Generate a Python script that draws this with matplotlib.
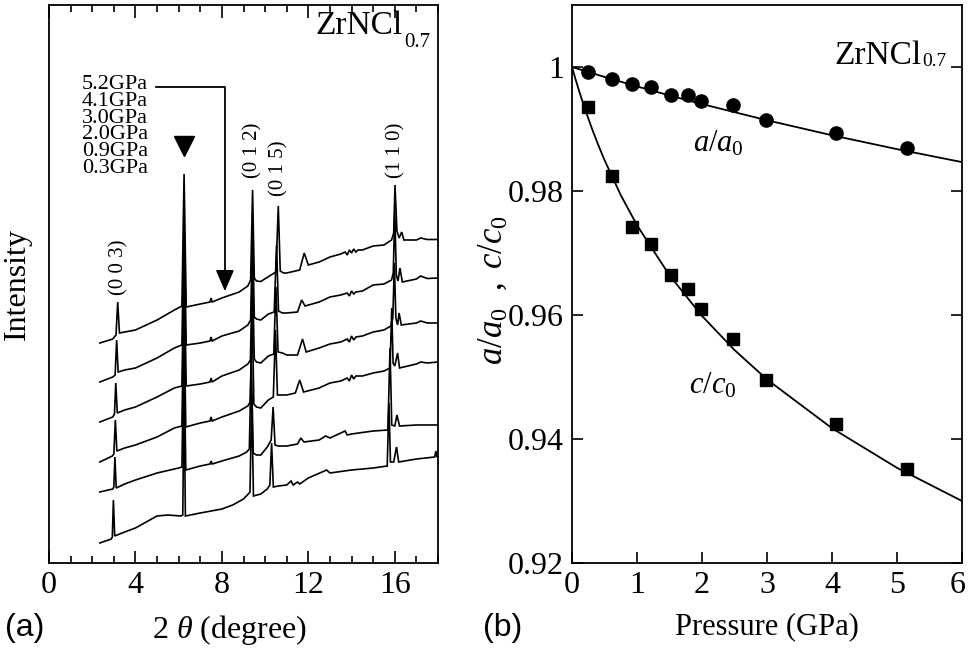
import matplotlib
matplotlib.use('Agg')
import matplotlib.pyplot as plt
import matplotlib.transforms as mtransforms
from matplotlib.ticker import FixedLocator, MultipleLocator
from matplotlib.patches import FancyArrowPatch

plt.rcParams['font.family'] = ['Liberation Serif', 'DejaVu Serif']
plt.rcParams['mathtext.fontset'] = 'custom'
plt.rcParams['mathtext.rm'] = 'Liberation Serif'
plt.rcParams['mathtext.it'] = 'Liberation Serif:italic'
plt.rcParams['mathtext.bf'] = 'Liberation Serif:bold'

# ---------------- panel (a): XRD patterns (2theta, intensity a.u.) ----------------
pressures_a = ['5.2GPa', '4.1GPa', '3.0GPa', '2.0GPa', '0.9GPa', '0.3GPa']

tt_52 = [2.35, 2.95, 3.10, 3.18, 3.26, 3.5, 4.0, 5.0, 5.8, 6.15, 6.25, 6.35, 7.0, 7.45, 7.5, 7.55,
         8.0, 8.8, 9.2, 9.33, 9.42, 9.5, 9.6, 9.8, 10.2, 10.5, 10.61, 10.7, 10.85, 11.0, 11.6, 11.81,
         12.0, 12.5, 13.0, 13.5, 13.7, 13.8, 13.9, 14.0, 14.1, 14.2, 14.3, 14.5, 15.0, 15.5, 15.85,
         15.95, 16.01, 16.1, 16.2, 16.32, 16.42, 17.0, 17.2, 17.5, 18.0]
ii_52 = [220, 224, 228, 261, 230, 231, 233, 243, 253, 257, 389, 256, 259, 261, 265, 261,
         265, 271, 277, 283, 373, 285, 282, 281.5, 287, 291, 357, 292, 290, 290, 293, 310,
         298, 301, 306, 309, 311, 308, 313, 310, 314, 311, 313, 313, 317, 318, 323,
         330, 378, 332, 325, 331, 323, 323, 325, 323.5, 323.5]

tt_41 = [2.35, 2.95, 3.06, 3.13, 3.2, 3.5, 4.0, 5.0, 5.8, 6.15, 6.25, 6.35, 7.0, 7.45, 7.5, 7.55,
         8.0, 8.8, 9.2, 9.33, 9.42, 9.5, 9.6, 9.8, 10.15, 10.42, 10.53, 10.62, 10.8, 11.0, 11.5, 11.69,
         11.85, 12.5, 13.0, 13.5, 13.8, 13.9, 14.0, 14.1, 14.2, 14.5, 15.0, 15.5, 15.85, 15.93, 16.0,
         16.07, 16.15, 16.24, 16.35, 17.0, 17.2, 17.5, 18.0]
ii_41 = [181, 186, 188, 223, 191, 193, 195, 205, 215, 218, 346, 218, 220, 222, 226, 222,
         227, 232, 238, 243, 336, 246, 244, 243, 249, 251, 318, 252, 250, 250, 251, 263,
         257, 261, 266, 268, 270, 267, 272, 269, 271, 272, 278, 279, 283, 290, 352,
         288, 282, 295, 281, 284, 287, 284.5, 285]

tt_30 = [2.35, 2.95, 3.03, 3.09, 3.16, 3.5, 4.0, 5.0, 5.8, 6.15, 6.25, 6.35, 7.0, 7.45, 7.5, 7.55,
         8.0, 8.8, 9.2, 9.32, 9.41, 9.5, 9.6, 9.8, 10.15, 10.4, 10.5, 10.6, 10.8, 11.0, 11.5, 11.73,
         11.9, 12.5, 13.0, 13.5, 13.8, 13.9, 14.0, 14.1, 14.2, 14.5, 15.0, 15.5, 15.82, 15.91, 15.98,
         16.05, 16.13, 16.2, 16.3, 17.0, 17.2, 17.5, 18.0]
ii_30 = [141, 146, 149, 180, 150, 153, 156, 166, 175, 177, 305, 177, 179, 181, 185, 181,
         187, 193, 199, 203, 296, 204, 201, 200, 207, 209, 276, 211, 210, 208, 208, 224,
         211, 215, 219, 221, 224, 221, 227, 223, 226, 227, 231, 233, 237, 245, 300,
         245, 238, 250, 238, 240, 242, 240, 240]

tt_20 = [2.35, 2.93, 3.0, 3.07, 3.14, 3.5, 4.0, 5.0, 5.8, 6.15, 6.24, 6.33, 7.0, 7.45, 7.5, 7.55,
         8.0, 8.8, 9.2, 9.31, 9.4, 9.48, 9.6, 9.8, 10.15, 10.38, 10.48, 10.57, 10.75, 11.0, 11.4, 11.6,
         11.78, 12.5, 13.0, 13.5, 13.8, 13.9, 14.0, 14.1, 14.2, 14.5, 15.0, 15.5, 15.78, 15.86, 15.92,
         16.0, 16.13, 16.22, 17.0, 17.2, 17.5, 18.0]
ii_20 = [101, 107, 109, 143, 112, 115, 118, 126, 135, 137, 265, 136, 140, 142, 146, 142,
         146, 152, 157, 161, 254, 159, 156, 155, 163, 166, 233, 168, 168, 168, 170, 183,
         171, 175, 180, 182, 185, 182, 188, 184, 187, 187, 190, 192, 195, 255, 200,
         197, 210, 195, 199, 201, 200, 201]

tt_09 = [2.35, 2.95, 3.0, 3.05, 3.11, 3.5, 4.0, 5.0, 6.0, 6.15, 6.24, 6.33, 7.0, 7.45, 7.5, 7.55,
         8.0, 8.8, 9.15, 9.27, 9.36, 9.45, 9.6, 9.8, 10.1, 10.28, 10.37, 10.46, 10.6, 11.0, 11.5,
         11.65, 11.8, 12.5, 12.8, 13.0, 13.7, 13.8, 14.0, 15.0, 15.68, 15.78, 15.86, 16.0, 16.1,
         16.22, 17.0, 18.0]
ii_09 = [71, 74, 76, 106, 75, 79, 83, 90, 95, 96, 225, 93, 97, 99, 102, 99,
         102, 107, 111, 114, 207, 110, 108, 108, 116, 123, 156, 118, 117, 117, 119,
         125, 121, 123, 127, 125, 132, 128, 129, 132, 133, 215, 138, 137, 148,
         137, 138, 138]

tt_03 = [2.35, 2.88, 2.93, 2.98, 3.04, 3.5, 4.0, 4.5, 5.0, 5.5, 6.1, 6.19, 6.25, 6.31, 7.0, 8.0,
         8.5, 9.0, 9.22, 9.3, 9.38, 9.46, 9.8, 10.1, 10.22, 10.3, 10.38, 10.6, 11.0, 11.2, 11.3,
         11.5, 11.6, 12.0, 12.85, 13.0, 14.0, 15.0, 15.65, 15.73, 15.8, 15.95, 16.08, 16.18, 17.0,
         17.85, 17.9, 17.95, 18.0]
ii_03 = [20, 24, 26, 63, 27, 31, 35, 41, 47, 48, 47, 48, 180, 47, 50, 54,
         58, 64, 69, 71, 165, 67, 69, 74, 78, 120, 76, 77, 78, 82, 78,
         81, 79, 85, 93, 90, 93, 95, 97, 160, 101, 101, 116, 101, 104,
         106, 112, 106, 107]

traces = [(tt_52, ii_52), (tt_41, ii_41), (tt_30, ii_30),
          (tt_20, ii_20), (tt_09, ii_09), (tt_03, ii_03)]

xticks_a = [0, 4, 8, 12, 16]
xticklabels_a = ['0', '4', '8', '12', '16']
miller = ['(0 0 3)', '(0 1 2)', '(0 1 5)', '(1 1 0)']
miller_x = [3.22, 9.42, 10.65, 16.05]
miller_y = [296, 413, 395, 413]

# ---------------- panel (b): lattice parameters ----------------
P = [0.25, 0.61, 0.93, 1.21, 1.53, 1.79, 1.98, 2.48, 2.99, 4.06, 5.15]
a_ratio = [0.9992, 0.9980, 0.9972, 0.9968, 0.9955, 0.9955, 0.9945, 0.9938, 0.9915, 0.9893, 0.9869]
c_ratio = [0.9935, 0.9825, 0.9742, 0.9715, 0.9664, 0.9642, 0.9610, 0.9562, 0.9495, 0.9425, 0.9351]

P_fit_a = [0, 0.5, 1, 1.5, 2, 3, 4, 5, 6]
a_fit = [1.0, 0.9984, 0.99687, 0.99541, 0.99402, 0.99141, 0.98899, 0.98675, 0.98466]
P_fit_c = [0, 0.05, 0.1, 0.15, 0.2, 0.3, 0.4, 0.5, 0.75, 1, 1.5, 2, 2.5, 3, 4, 5, 6]
c_fit = [1.0, 0.99818, 0.99645, 0.9948, 0.99322, 0.99026, 0.98753, 0.9850, 0.97934, 0.97448,
         0.9664, 0.95985, 0.95435, 0.9496, 0.94174, 0.93535, 0.9300]

yticks_b = [0.92, 0.94, 0.96, 0.98, 1.0]
yticklabels_b = ['0.92', '0.94', '0.96', '0.98', '1']
xticks_b = [0, 1, 2, 3, 4, 5, 6]

# ---------------- figure ----------------
fig = plt.figure(figsize=(9.68, 6.49), dpi=100)
axL = fig.add_axes([49 / 968, 86 / 649, 389 / 968, 558 / 649])
axR = fig.add_axes([572 / 968, 86 / 649, 390 / 968, 558 / 649])

for ax in (axL, axR):
    for s in ax.spines.values():
        s.set_linewidth(1.3)

# panel (a)
for tt, ii in traces:
    axL.plot(tt, ii, color='black', lw=1.2, solid_joinstyle='miter')
axL.set_xlim(0, 18)
axL.set_ylim(0, 558)
axL.set_yticks([])
axL.xaxis.set_major_locator(FixedLocator(xticks_a))
axL.set_xticklabels(xticklabels_a)
axL.xaxis.set_minor_locator(MultipleLocator(1))
axL.tick_params(axis='x', which='both', direction='in', top=True, bottom=True,
                labelsize=23, pad=6, width=1.2)
axL.tick_params(axis='x', which='major', length=9)
axL.tick_params(axis='x', which='minor', length=5)
axL.set_xlabel('2 $\\theta$ (degree)', fontsize=23)
axL.xaxis.set_label_coords(0.464, -0.089)
axL.set_ylabel('Intensity', fontsize=23)
axL.yaxis.set_label_coords(-0.082, 0.50)
axL.yaxis.label.set_verticalalignment('center')

axL.text(1.53, 436.5, '\n'.join(pressures_a), fontsize=16, ha='left', va='center',
         linespacing=0.84)

axL.plot([4.95, 8.14, 8.14], [476, 476, 286], color='black', lw=1.3)
arr = FancyArrowPatch((8.14, 292), (8.14, 269), arrowstyle='-|>,head_length=0.65,head_width=0.28',
                      mutation_scale=20, color='black', lw=1.3)
axL.add_patch(arr)
axL.plot([6.25], [417], marker='v', markersize=14, color='black')

for lab, x, y in zip(miller, miller_x, miller_y):
    axL.text(x, y, lab, rotation=90, fontsize=15, ha='center', va='center')

tL = axL.text(0.686, 0.948, 'ZrNCl', transform=axL.transAxes, fontsize=24, va='baseline')
axL.annotate('0.7', xy=(1, 0), xycoords=tL, xytext=(1, -4), textcoords='offset points',
             fontsize=15, va='baseline', ha='left')

# panel (b)
axR.plot(P_fit_a, a_fit, color='black', lw=1.3)
axR.plot(P_fit_c, c_fit, color='black', lw=1.3)
axR.plot(P, a_ratio, 'o', color='black', markersize=9.5)
axR.plot(P, c_ratio, 's', color='black', markersize=9)
axR.set_xlim(0, 6)
axR.set_ylim(0.92, 1.01)
axR.xaxis.set_major_locator(FixedLocator(xticks_b))
axR.yaxis.set_major_locator(FixedLocator(yticks_b))
axR.set_yticklabels(yticklabels_b)
axR.tick_params(axis='both', direction='in', labelsize=23, width=1.2, length=8)
axR.tick_params(axis='y', right=True, pad=6)
axR.tick_params(axis='x', pad=6)
# keep the last x tick label ("6") inside the canvas
lastlab = axR.get_xticklabels()[-1]
lastlab.set_horizontalalignment('right')
lastlab.set_transform(lastlab.get_transform() +
                      mtransforms.ScaledTranslation(4 / 100, 0, fig.dpi_scale_trans))
axR.set_xlabel('Pressure (GPa)', fontsize=22)
axR.xaxis.set_label_coords(0.5, -0.089)
axR.set_ylabel('$a/a_0\\ \\ ,\\ c/c_0$', fontsize=25)
axR.yaxis.set_label_coords(-0.2026, 0.49)
axR.yaxis.label.set_verticalalignment('center')

axR.text(2.25, 0.9877, '$a/a_0$', fontsize=22, ha='center', va='center')
axR.text(2.17, 0.9486, '$c/c_0$', fontsize=22, ha='center', va='center')

tR = axR.text(0.674, 0.895, 'ZrNCl', transform=axR.transAxes, fontsize=24, va='baseline')
axR.annotate('0.7', xy=(1, 0), xycoords=tR, xytext=(0.5, 3), textcoords='offset points',
             fontsize=14, va='baseline', ha='left')

fig.text(5 / 968, 13 / 649, '(a)', family=['Liberation Sans', 'DejaVu Sans'], fontsize=23, va='baseline')
fig.text(483 / 968, 13 / 649, '(b)', family=['Liberation Sans', 'DejaVu Sans'], fontsize=23, va='baseline')

fig.savefig('out.png', dpi=100)
